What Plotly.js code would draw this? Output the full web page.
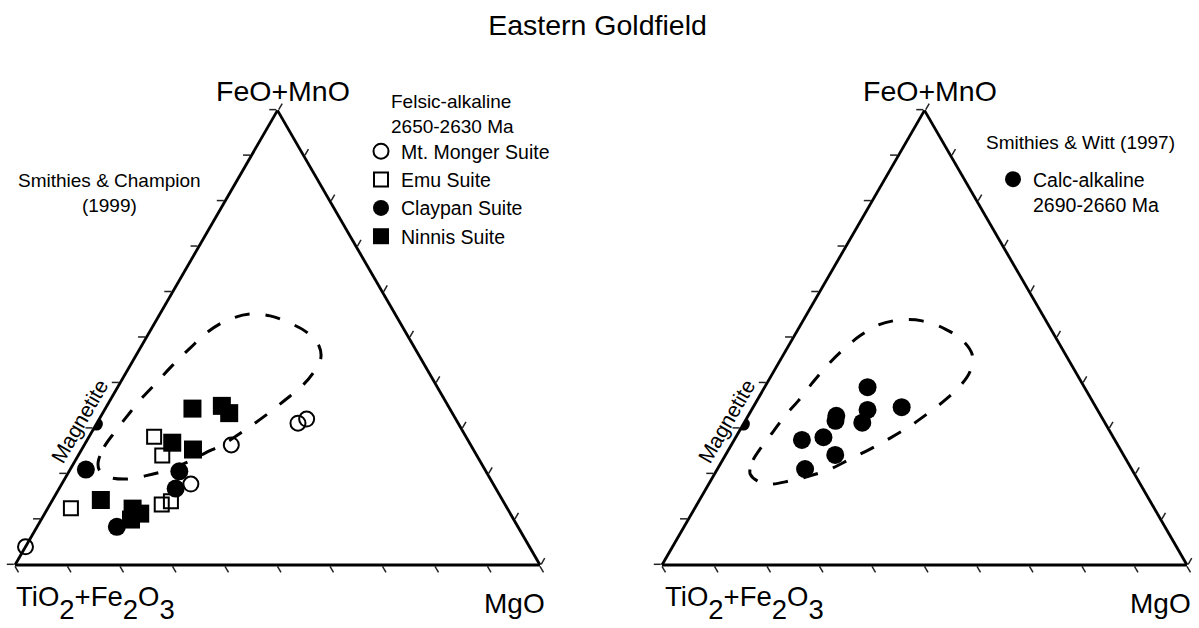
<!DOCTYPE html>
<html><head><meta charset="utf-8">
<script src="https://cdn.plot.ly/plotly-3.0.1.min.js"></script>
<style>html,body{margin:0;padding:0;background:#fff}#chart{width:1199px;height:628px}</style>
</head><body><div id="chart"></div>
<script>
// ---- data (percent: a = FeO+MnO, b = TiO2+Fe2O3, c = MgO) ----
const mongerFeO  = [4.0, 17.8, 26.4, 31.2, 32.1];
const mongerTiFe = [96.0, 57.6, 45.6, 30.5, 28.4];
const mongerMgO  = [0.0, 24.6, 28.0, 38.3, 39.5];

const emuFeO  = [12.5, 28.2, 24.1, 13.3, 14.0];
const emuTiFe = [83.1, 59.4, 59.9, 65.4, 63.3];
const emuMgO  = [4.4, 12.4, 16.0, 21.3, 22.7];

const claypanFeO  = [21.0, 20.6, 16.8, 8.4];
const claypanTiFe = [76.0, 58.4, 61.0, 76.4];
const claypanMgO  = [3.0, 21.0, 22.2, 15.2];

const ninnisFeO  = [34.4, 35.0, 33.4, 26.9, 25.4, 14.3, 12.4, 11.3, 10.0];
const ninnisTiFe = [49.0, 43.1, 42.5, 56.6, 53.4, 76.5, 71.4, 70.5, 72.9];
const ninnisMgO  = [16.6, 21.9, 24.1, 16.5, 21.2, 9.2, 16.2, 18.2, 17.1];

const calcFeO  = [39.1, 34.1, 34.7, 32.8, 31.7, 31.3, 27.5, 28.1, 24.2, 21.1];
const calcTiFe = [41.3, 43.8, 37.0, 50.4, 51.1, 46.2, 59.6, 55.2, 54.9, 62.2];
const calcMgO  = [19.6, 22.1, 28.3, 16.8, 17.2, 22.5, 12.9, 16.7, 20.9, 16.7];

const magnetiteFeO = [31], magnetiteTiFe = [69], magnetiteMgO = [0];

const fieldLeftFeO  = [22.7,26.0,29.3,32.8,36.3,39.8,43.8,47.7,51.3,53.9,55.2,54.8,53.2,51.0,48.2,45.5,42.5,39.4,36.3,32.8,29.7,26.8,24.6,22.4,20.7,19.6,18.9,19.4,20.9,22.7];
const fieldLeftTiFe = [72.8,70.0,66.3,62.2,58.0,53.4,48.2,42.8,37.6,32.5,27.6,24.0,21.0,18.7,18.0,19.0,21.8,25.6,30.4,36.0,41.3,46.6,51.5,56.4,61.1,65.4,69.6,72.6,73.5,72.8];
const fieldLeftMgO  = [4.5,4.0,4.4,5.0,5.7,6.8,8.0,9.5,11.1,13.6,17.2,21.2,25.8,30.3,33.8,35.5,35.7,35.0,33.3,31.2,29.0,26.6,23.9,21.2,18.2,15.0,11.5,8.0,5.6,4.5];

const fieldRightFeO  = [20.9,23.1,26.2,29.3,32.8,36.1,40.0,43.8,47.3,50.4,52.8,53.9,53.7,51.9,49.5,46.2,42.5,39.4,36.3,33.4,30.6,27.9,25.5,23.3,21.1,19.6,18.5,17.8,18.5,20.0,20.9];
const fieldRightTiFe = [72.8,71.1,67.8,64.2,60.2,56.0,51.4,46.7,41.9,37.1,32.4,27.7,23.6,20.1,18.1,17.8,20.1,23.5,27.9,32.6,37.4,42.6,47.6,52.5,57.4,62.0,66.4,70.5,72.6,73.2,72.8];
const fieldRightMgO  = [6.3,5.8,6.0,6.5,7.0,7.9,8.6,9.5,10.8,12.5,14.8,18.4,22.7,28.0,32.4,36.0,37.4,37.1,35.8,34.0,32.0,29.5,26.9,24.2,21.5,18.4,15.1,11.7,8.9,6.8,6.3];

const vertexTop = 'FeO+MnO';
const vertexLeft = 'TiO<span style="baseline-shift:-13px">2</span>+Fe<span style="baseline-shift:-13px">2</span>O<span style="baseline-shift:-13px">3</span>';
const vertexRight = 'MgO';

// ---- layout helpers ----
const W = 1199, H = 628;
const px = x => x / W, py = y => 1 - y / H;
const FONT = 'Liberation Sans, Arial, Helvetica, sans-serif';

function axis() {
  return {showline: true, linecolor: '#000', linewidth: 2.8, showgrid: false,
    ticks: 'outside', ticklen: 7, tickwidth: 1.5, tickcolor: '#222',
    showticklabels: false, tickmode: 'linear', tick0: 0, dtick: 10, title: {text: ''}};
}
function tern(x0, x1) {
  return {sum: 100, bgcolor: 'rgba(0,0,0,0)',
    domain: {x: [px(x0), px(x1)], y: [63 / H, 517.66 / H]},
    aaxis: axis(), baxis: axis(), caxis: axis()};
}
const fieldLine = {color: '#000', width: 3, dash: '15px,16px', shape: 'spline', smoothing: 1};

const traces = [
  {type: 'scatterternary', subplot: 'ternary', mode: 'lines', a: fieldLeftFeO, b: fieldLeftTiFe, c: fieldLeftMgO,
   line: fieldLine, showlegend: false, hoverinfo: 'skip'},
  {type: 'scatterternary', subplot: 'ternary2', mode: 'lines', a: fieldRightFeO, b: fieldRightTiFe, c: fieldRightMgO,
   line: fieldLine, showlegend: false, hoverinfo: 'skip'},
  {type: 'scatterternary', subplot: 'ternary', mode: 'markers', a: magnetiteFeO, b: magnetiteTiFe, c: magnetiteMgO,
   marker: {symbol: 'circle', size: 13, color: '#000'}, cliponaxis: true, showlegend: false, name: 'Magnetite'},
  {type: 'scatterternary', subplot: 'ternary2', mode: 'markers', a: magnetiteFeO, b: magnetiteTiFe, c: magnetiteMgO,
   marker: {symbol: 'circle', size: 13, color: '#000'}, cliponaxis: true, showlegend: false, name: 'Magnetite'},
  {type: 'scatterternary', subplot: 'ternary', mode: 'markers', name: 'Mt. Monger Suite',
   a: mongerFeO, b: mongerTiFe, c: mongerMgO, cliponaxis: false,
   marker: {symbol: 'circle-open', size: 15, color: '#000', line: {width: 2, color: '#000'}}},
  {type: 'scatterternary', subplot: 'ternary', mode: 'markers', name: 'Emu Suite',
   a: emuFeO, b: emuTiFe, c: emuMgO, cliponaxis: false,
   marker: {symbol: 'square-open', size: 14, color: '#000', line: {width: 2, color: '#000'}}},
  {type: 'scatterternary', subplot: 'ternary', mode: 'markers', name: 'Claypan Suite',
   a: claypanFeO, b: claypanTiFe, c: claypanMgO, cliponaxis: false,
   marker: {symbol: 'circle', size: 18, color: '#000', line: {width: 0}}},
  {type: 'scatterternary', subplot: 'ternary', mode: 'markers', name: 'Ninnis Suite',
   a: ninnisFeO, b: ninnisTiFe, c: ninnisMgO, cliponaxis: false,
   marker: {symbol: 'square', size: 18, color: '#000', line: {width: 0}}},
  {type: 'scatterternary', subplot: 'ternary2', mode: 'markers', name: 'Calc-alkaline<br>2690-2660 Ma',
   a: calcFeO, b: calcTiFe, c: calcMgO, cliponaxis: false, legend: 'legend2',
   marker: {symbol: 'circle', size: 18, color: '#000', line: {width: 0}}}
];

function ann(text, x, y, size, xanchor, extra) {
  return Object.assign({text: text, x: px(x), y: py(y), xref: 'paper', yref: 'paper', showarrow: false,
    xanchor: xanchor, yanchor: 'middle', font: {family: FONT, size: size, color: '#000'}}, extra || {});
}

const annotations = [
  ann(vertexTop, 283, 91, 28.5, 'center'),
  ann(vertexTop, 929.5, 91, 28.5, 'center'),
  ann(vertexLeft, 14, 603, 27.5, 'left'),
  ann(vertexLeft, 663, 603, 27.5, 'left'),
  ann(vertexRight, 547, 603, 28, 'right'),
  ann(vertexRight, 1193, 603, 28, 'right'),
  ann('Smithies & Champion<br>(1999)', 109, 192.5, 19, 'center', {align: 'center'}),
  ann('Felsic-alkaline<br>2650-2630 Ma', 389, 114.5, 19, 'left', {align: 'left'}),
  ann('Smithies & Witt (1997)', 984, 142, 19, 'left'),
  ann('Magnetite', 79, 421, 21, 'center', {textangle: -60}),
  ann('Magnetite', 726, 421, 21, 'center', {textangle: -60})
];

const legendBase = {xanchor: 'left', yanchor: 'top', bgcolor: 'rgba(0,0,0,0)', borderwidth: 0,
  font: {family: FONT, size: 19.5, color: '#000'}, itemwidth: 30, traceorder: 'normal'};

const layout = {
  width: W, height: H, margin: {l: 0, r: 0, t: 0, b: 0},
  paper_bgcolor: '#fff', plot_bgcolor: '#fff',
  font: {family: FONT, color: '#000'},
  title: {text: 'Eastern Goldfield', x: 597.5 / W, xanchor: 'center', y: py(25), yanchor: 'middle',
    font: {family: FONT, size: 28.5, color: '#000'}},
  ternary: tern(15, 540),
  ternary2: tern(662, 1187),
  showlegend: true,
  legend: Object.assign({x: px(361), y: py(132)}, legendBase),
  legend2: Object.assign({x: px(993), y: py(160), valign: 'top'}, legendBase),
  annotations: annotations
};

Plotly.newPlot('chart', traces, layout, {staticPlot: true, displayModeBar: false});
</script>
</body></html>
